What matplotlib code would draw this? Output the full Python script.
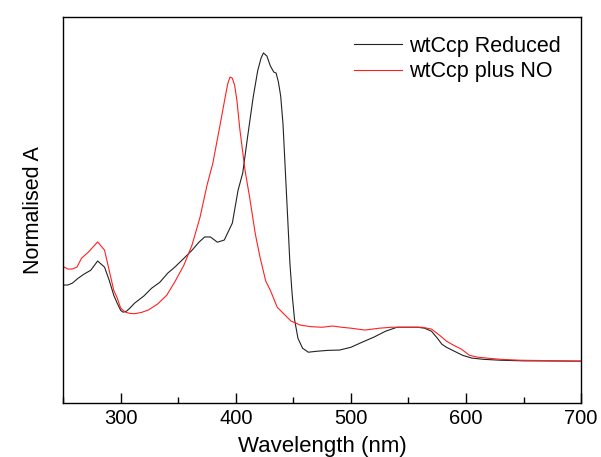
import matplotlib.pyplot as plt
from matplotlib.ticker import MultipleLocator

# wavelength (nm) and normalised absorbance
wl_red = [250, 254, 258, 262, 266, 272, 280, 286, 290, 294, 297, 300, 304, 308, 312, 318,
          324, 332, 340, 347, 355, 362, 369, 375, 380, 386, 391, 393, 395, 397, 399, 401,
          403.5, 408, 412, 417, 421, 426, 430, 436, 441, 448, 456, 465, 475, 484, 492,
          500, 512, 525, 535, 545, 555, 562, 570, 577, 583, 589, 596, 603, 610, 618, 630,
          647, 665, 700]
a_red = [0.307, 0.299, 0.299, 0.305, 0.334, 0.354, 0.387, 0.360, 0.295, 0.230, 0.205,
         0.172, 0.159, 0.155, 0.154, 0.158, 0.166, 0.185, 0.214, 0.257, 0.312, 0.377,
         0.468, 0.571, 0.641, 0.760, 0.861, 0.900, 0.922, 0.918, 0.895, 0.845, 0.753,
         0.620, 0.532, 0.412, 0.338, 0.260, 0.230, 0.175, 0.156, 0.130, 0.117, 0.112,
         0.110, 0.114, 0.110, 0.107, 0.101, 0.107, 0.110, 0.110, 0.110, 0.110, 0.104,
         0.084, 0.065, 0.052, 0.039, 0.019, 0.013, 0.010, 0.006, 0.003, 0.002, 0.0]

wl_black = [250, 254, 258, 263, 268, 274, 280, 286, 290, 294, 297, 300, 302, 305, 308,
            312, 320, 327, 334, 341, 347, 355, 362, 368, 373, 378, 384, 390, 397, 402,
            406, 410, 415, 419, 422, 424, 427, 430, 433, 435, 437, 439, 441, 443, 445,
            447, 449, 451, 454, 458, 463, 470, 480, 490, 500, 510, 520, 530, 540, 550,
            558, 564, 570, 575, 579, 583, 590, 597, 605, 615, 630, 650, 700]
a_black = [0.247, 0.247, 0.253, 0.269, 0.282, 0.295, 0.325, 0.305, 0.263, 0.214, 0.188,
           0.165, 0.159, 0.162, 0.172, 0.188, 0.211, 0.237, 0.256, 0.286, 0.305, 0.334,
           0.360, 0.386, 0.403, 0.403, 0.386, 0.393, 0.448, 0.555, 0.610, 0.721, 0.854,
           0.942, 0.984, 1.0, 0.990, 0.958, 0.938, 0.935, 0.906, 0.860, 0.770, 0.620,
           0.470, 0.318, 0.215, 0.136, 0.074, 0.042, 0.029, 0.032, 0.035, 0.036, 0.045,
           0.062, 0.078, 0.097, 0.110, 0.110, 0.110, 0.107, 0.097, 0.075, 0.055, 0.045,
           0.032, 0.019, 0.010, 0.006, 0.003, 0.001, 0.0]

plt.rcParams['font.family'] = ['Liberation Sans', 'DejaVu Sans']

fig = plt.figure(figsize=(6.01, 4.57), dpi=100)
ax = fig.add_axes([0.105, 0.118, 0.862, 0.845])

ax.plot(wl_black, a_black, color='#222222', lw=0.8, label='wtCcp Reduced')
ax.plot(wl_red, a_red, color='#ff2020', lw=0.8, label='wtCcp plus NO')

ax.set_xlim(250, 700)
ax.set_ylim(-0.136, 1.117)
ax.xaxis.set_major_locator(MultipleLocator(100))
ax.xaxis.set_minor_locator(MultipleLocator(50))
ax.tick_params(axis='x', which='major', direction='in', length=7, width=1, labelsize=14.5, pad=4)
ax.tick_params(axis='x', which='minor', direction='in', length=4, width=1)
ax.set_yticks([])
for sp in ax.spines.values():
    sp.set_linewidth(1.0)

ax.set_xlabel('Wavelength (nm)', fontsize=16, labelpad=6)
ax.set_ylabel('Normalised A', fontsize=15.5, labelpad=14)

ax.legend(loc='upper right', frameon=False, fontsize=15.5, handlelength=2.2,
          handletextpad=0.35, labelspacing=0.2, borderaxespad=0.3,
          bbox_to_anchor=(0.99, 0.99))

fig.savefig('out.png', dpi=100)
